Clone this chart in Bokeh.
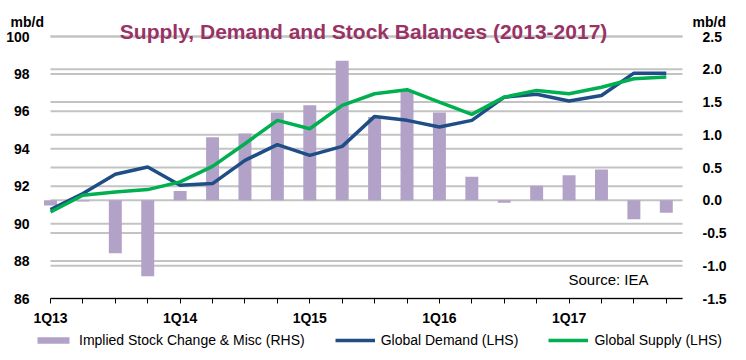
from bokeh.plotting import figure
from bokeh.models import (Range1d, LinearAxis, FixedTicker, Label, Legend,
                          LegendItem, NumeralTickFormatter, ColumnDataSource)
from bokeh.embed import file_html
from bokeh.resources import INLINE

quarters = ["1Q13", "2Q13", "3Q13", "4Q13", "1Q14", "2Q14", "3Q14", "4Q14",
            "1Q15", "2Q15", "3Q15", "4Q15", "1Q16", "2Q16", "3Q16", "4Q16",
            "1Q17", "2Q17", "3Q17", "4Q17"]
demand = [90.75, 91.61, 92.64, 93.03, 92.05, 92.14, 93.38, 94.22, 93.65, 94.13,
          95.73, 95.52, 95.16, 95.52, 96.76, 96.91, 96.55, 96.85, 98.04, 98.04]
supply = [90.62, 91.52, 91.69, 91.82, 92.23, 93.06, 94.27, 95.52, 95.07, 96.32,
          96.94, 97.16, 96.49, 95.84, 96.76, 97.12, 96.94, 97.29, 97.74, 97.83]
stock_change = [-0.08, -0.02, -0.81, -1.16, 0.14, 0.96, 1.02, 1.34, 1.45, 2.13,
                1.27, 1.68, 1.34, 0.36, -0.04, 0.22, 0.38, 0.47, -0.29, -0.19]
left_ticks = [86, 88, 90, 92, 94, 96, 98, 100]
right_ticks = [-1.5, -1.0, -0.5, 0.0, 0.5, 1.0, 1.5, 2.0, 2.5]

x = list(range(len(quarters)))
src = ColumnDataSource(dict(x=x, q=quarters, demand=demand, supply=supply, stock=stock_change))

FONT = "Liberation Sans"
W, H = 730, 352
# plot-area geometry (canvas pixels)
PL, PR, PT, PB = 50, 682, 36, 298
X_END = 19.5
PX_X = (PR - PL) / X_END          # px per quarter
PX_L = (PB - PT) / 14.0           # px per unit, left axis
PX_R = (PB - PT) / 4.0            # px per unit, right axis


def dx(px):
    return (px - PL) / PX_X


def dy(py):
    return 86 + (PB - py) / PX_L


p = figure(width=W, height=H,
           x_range=Range1d(dx(0), dx(W)), y_range=Range1d(dy(H), dy(0)),
           output_backend="svg", toolbar_location=None, min_border=0)
p.extra_y_ranges = {"rhs": Range1d(-1.5 - (H - PB) / PX_R, -1.5 + PB / PX_R)}
p.outline_line_color = None
p.grid.visible = False

# horizontal grid lines for both scales, limited to the plot area
p.segment(x0=0, x1=X_END, y0=left_ticks, y1=left_ticks, line_color="#C3C3C3", line_width=2)
p.segment(x0=0, x1=X_END, y0=right_ticks, y1=right_ticks, line_color="#C3C3C3", line_width=2,
          y_range_name="rhs")

# left axis
ya = p.yaxis[0]
ya.fixed_location = 0
ya.ticker = FixedTicker(ticks=left_ticks)
ya.axis_line_color = None
ya.major_tick_line_color = None
ya.minor_tick_line_color = None
ya.major_label_text_font = FONT
ya.major_label_text_font_style = "bold"
ya.major_label_text_font_size = "14px"
ya.major_label_text_color = "black"
ya.major_label_standoff = 15

# right axis
ra = LinearAxis(y_range_name="rhs", ticker=FixedTicker(ticks=right_ticks),
                formatter=NumeralTickFormatter(format="0.0"), fixed_location=X_END)
ra.axis_line_color = None
ra.major_tick_line_color = None
ra.minor_tick_line_color = None
ra.major_label_text_font = FONT
ra.major_label_text_font_style = "bold"
ra.major_label_text_font_size = "14px"
ra.major_label_text_color = "black"
ra.major_label_standoff = 14
p.add_layout(ra, "right")

# bottom axis
xa = p.xaxis[0]
xa.fixed_location = 86
xa.bounds = (0, X_END)
xa.ticker = FixedTicker(ticks=x)
xa.major_label_overrides = {i: (q if q.startswith("1Q") else "") for i, q in zip(x, quarters)}
xa.axis_line_color = "black"
xa.axis_line_width = 1
xa.major_tick_line_color = "black"
xa.major_tick_out = 5
xa.major_tick_in = 0
xa.minor_tick_line_color = None
xa.major_label_text_font = FONT
xa.major_label_text_font_style = "bold"
xa.major_label_text_font_size = "14px"
xa.major_label_text_color = "black"
xa.major_label_standoff = 6

bars = p.vbar(x="x", top="stock", bottom=0, width=0.4, source=src, y_range_name="rhs",
              fill_color="#B3A2C7", line_color=None)
ld = p.line("x", "demand", source=src, line_color="#1F4E86", line_width=3.5)
ls = p.line("x", "supply", source=src, line_color="#00B050", line_width=3.5)

# texts
p.add_layout(Label(x=dx(366), y=dy(31),
                   text="Supply, Demand and Stock  Balances (2013-2017)",
                   text_font=FONT, text_font_style="bold", text_font_size="21px",
                   text_color="#993366", text_align="center", text_baseline="alphabetic"))
for xpos in (10, 692):
    p.add_layout(Label(x=dx(xpos), y=dy(21), text="mb/d", text_font=FONT,
                       text_font_style="bold", text_font_size="14px", text_color="black",
                       text_align="left", text_baseline="alphabetic"))
p.add_layout(Label(x=dx(568), y=dy(279), text="Source: IEA", text_font=FONT,
                   text_font_size="15px", text_color="black",
                   text_align="left", text_baseline="alphabetic"))

legend = Legend(items=[LegendItem(label="Implied Stock Change & Misc (RHS)", renderers=[bars]),
                       LegendItem(label="Global Demand (LHS)", renderers=[ld]),
                       LegendItem(label="Global Supply (LHS)", renderers=[ls])],
                orientation="horizontal", location=(33, 2),
                glyph_width=40, glyph_height=8, label_standoff=6, spacing=30,
                padding=0, margin=0, border_line_color=None, background_fill_alpha=0,
                label_text_font=FONT, label_text_font_size="14px", label_text_color="black",
                label_height=20)
p.add_layout(legend, "center")

open("out.html", "w").write(file_html(p, INLINE))
